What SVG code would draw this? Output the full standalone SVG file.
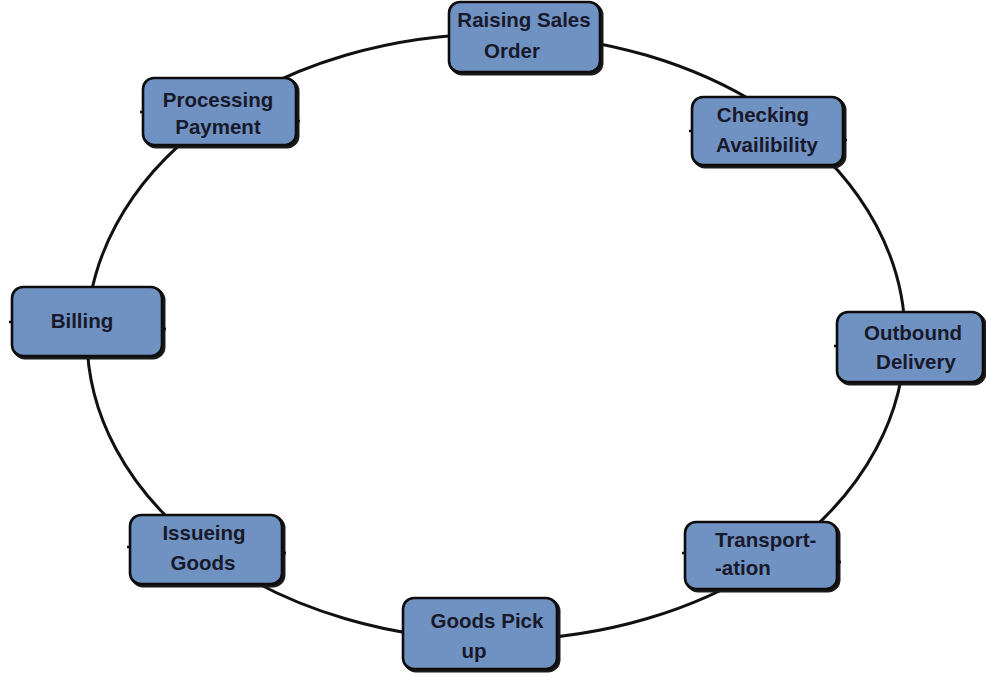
<svg xmlns="http://www.w3.org/2000/svg" width="986" height="677" viewBox="0 0 986 677">
<style>
.bg{fill:#ffffff}
.ring{fill:none;stroke:#111111;stroke-width:3}
.sh{fill:#1a1a1a;stroke:#1a1a1a;stroke-width:3}
.box{fill:#7092c2;stroke:#0d0d0d;stroke-width:2.6}
.tick{stroke:#111111;stroke-width:2.5}
.t{font-family:"Liberation Sans",Arial,sans-serif;font-weight:bold;font-size:20.5px;fill:#18192a;text-anchor:middle}
.tl{font-family:"Liberation Sans",Arial,sans-serif;font-weight:bold;font-size:20.5px;fill:#18192a;text-anchor:start}
</style>
<rect class="bg" x="0" y="0" width="986" height="677"/>
<g id="connectors">
<ellipse class="ring" cx="496" cy="337" rx="409" ry="303"/>
</g>
<g id="raising-sales-order">
<rect class="sh" x="451" y="4" width="151" height="70" rx="11"/>
<rect class="box" x="449" y="2" width="151" height="70" rx="11"/>
<text class="t" x="524" y="27">Raising Sales</text>
<text class="t" x="512" y="58">Order</text>
</g>
<g id="checking-availibility">
<rect class="sh" x="694" y="99" width="151" height="68" rx="11"/>
<rect class="box" x="692" y="97" width="151" height="68" rx="11"/>
<line class="tick" x1="689" y1="131" x2="693" y2="131"/>
<line class="tick" x1="843" y1="140" x2="847" y2="140"/>
<text class="t" x="763" y="122">Checking</text>
<text class="t" x="767" y="152">Availibility</text>
</g>
<g id="outbound-delivery">
<rect class="sh" x="839" y="314" width="146" height="70" rx="11"/>
<rect class="box" x="837" y="312" width="146" height="70" rx="11"/>
<line class="tick" x1="834" y1="346" x2="838" y2="346"/>
<text class="t" x="913" y="340">Outbound</text>
<text class="t" x="916" y="369">Delivery</text>
</g>
<g id="transportation">
<rect class="sh" x="687" y="524" width="152" height="67" rx="11"/>
<rect class="box" x="685" y="522" width="152" height="67" rx="11"/>
<line class="tick" x1="682" y1="553" x2="686" y2="553"/>
<line class="tick" x1="837" y1="562" x2="841" y2="562"/>
<text class="tl" x="715" y="547">Transport-</text>
<text class="tl" x="715" y="575">-ation</text>
</g>
<g id="goods-pick-up">
<rect class="sh" x="405" y="600" width="154" height="71" rx="11"/>
<rect class="box" x="403" y="598" width="154" height="71" rx="11"/>
<text class="t" x="487" y="628">Goods Pick</text>
<text class="t" x="474" y="658">up</text>
</g>
<g id="issueing-goods">
<rect class="sh" x="132" y="517" width="152" height="69" rx="11"/>
<rect class="box" x="130" y="515" width="152" height="69" rx="11"/>
<line class="tick" x1="127" y1="547" x2="131" y2="547"/>
<line class="tick" x1="282" y1="553" x2="286" y2="553"/>
<text class="t" x="204" y="540">Issueing</text>
<text class="t" x="203" y="570">Goods</text>
</g>
<g id="billing">
<rect class="sh" x="14" y="289" width="150" height="69" rx="11"/>
<rect class="box" x="12" y="287" width="150" height="69" rx="11"/>
<line class="tick" x1="9" y1="322" x2="13" y2="322"/>
<line class="tick" x1="162" y1="329" x2="166" y2="329"/>
<text class="t" x="82" y="328">Billing</text>
</g>
<g id="processing-payment">
<rect class="sh" x="145" y="80" width="153" height="67" rx="11"/>
<rect class="box" x="143" y="78" width="153" height="67" rx="11"/>
<line class="tick" x1="140" y1="112" x2="144" y2="112"/>
<line class="tick" x1="296" y1="121" x2="300" y2="121"/>
<text class="t" x="218" y="107">Processing</text>
<text class="t" x="218" y="134">Payment</text>
</g>
</svg>
